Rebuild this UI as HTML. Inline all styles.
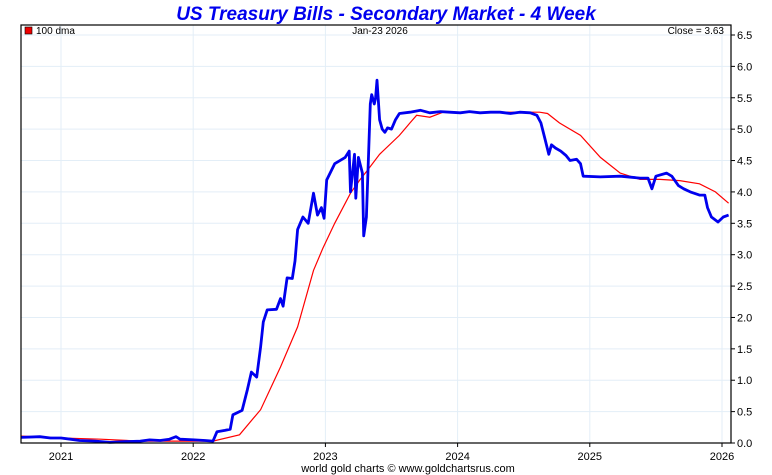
<!DOCTYPE html>
<html><head><meta charset="utf-8"><style>
body{margin:0;background:#fff;}
svg{display:block;font-family:"Liberation Sans",sans-serif;}
</style></head><body>
<svg width="772" height="475">
<text x="386" y="20" text-anchor="middle" font-size="19" font-weight="bold" font-style="italic" fill="#0000ee">US Treasury Bills - Secondary Market - 4 Week</text>
<g id="grid"></g>
<g id="series"></g>
<rect x="21" y="25" width="710" height="418" fill="none" stroke="#000" stroke-width="1.2"/>
<rect x="25" y="27" width="7" height="7" fill="#e00" stroke="#000" stroke-width="0.6"/>
<text x="36" y="34" font-size="10">100 dma</text>
<text x="380" y="34" font-size="10" text-anchor="middle">Jan-23  2026</text>
<text x="724" y="34" font-size="10" text-anchor="end">Close = 3.63</text>
<g id="axes"></g>
<text x="408" y="472" font-size="11" text-anchor="middle">world gold charts © www.goldchartsrus.com</text>
</svg>
<script>
const yTicks=[0,0.5,1,1.5,2,2.5,3,3.5,4,4.5,5,5.5,6,6.5];
const yTickLabels=["0.0","0.5","1.0","1.5","2.0","2.5","3.0","3.5","4.0","4.5","5.0","5.5","6.0","6.5"];
const xTicks=[2021,2022,2023,2024,2025,2026];
const xTickLabels=["2021","2022","2023","2024","2025","2026"];
const blueDates=[2020.70,2020.84,2020.92,2021.00,2021.07,2021.14,2021.26,2021.37,2021.48,2021.60,2021.67,2021.75,2021.82,2021.87,2021.90,2022.01,2022.09,2022.15,2022.18,2022.24,2022.28,2022.30,2022.37,2022.41,2022.44,2022.48,2022.51,2022.53,2022.56,2022.63,2022.66,2022.68,2022.71,2022.75,2022.77,2022.79,2022.83,2022.87,2022.91,2022.94,2022.97,2022.99,2023.01,2023.07,2023.15,2023.18,2023.19,2023.22,2023.23,2023.25,2023.28,2023.29,2023.31,2023.32,2023.34,2023.35,2023.37,2023.38,2023.39,2023.41,2023.43,2023.45,2023.47,2023.50,2023.53,2023.56,2023.64,2023.72,2023.79,2023.87,2023.94,2024.02,2024.09,2024.17,2024.25,2024.32,2024.40,2024.47,2024.55,2024.60,2024.63,2024.66,2024.69,2024.71,2024.74,2024.78,2024.82,2024.85,2024.90,2024.93,2024.95,2025.08,2025.23,2025.38,2025.44,2025.47,2025.50,2025.58,2025.62,2025.67,2025.71,2025.76,2025.83,2025.87,2025.89,2025.92,2025.97,2026.01,2026.05];
const blueValues=[0.09,0.10,0.08,0.08,0.06,0.04,0.03,0.01,0.02,0.03,0.05,0.04,0.06,0.10,0.06,0.05,0.04,0.03,0.18,0.20,0.22,0.45,0.52,0.85,1.13,1.05,1.53,1.93,2.12,2.13,2.30,2.18,2.63,2.62,2.90,3.40,3.60,3.50,3.98,3.63,3.75,3.58,4.19,4.45,4.55,4.65,4.00,4.60,3.90,4.55,4.30,3.30,3.60,4.20,5.40,5.55,5.40,5.50,5.78,5.15,5.00,4.95,5.02,5.00,5.15,5.25,5.27,5.30,5.26,5.28,5.27,5.26,5.28,5.26,5.27,5.27,5.25,5.27,5.26,5.22,5.10,4.85,4.60,4.75,4.70,4.65,4.58,4.50,4.52,4.45,4.25,4.24,4.25,4.22,4.22,4.05,4.25,4.30,4.25,4.10,4.05,4.00,3.95,3.95,3.75,3.60,3.52,3.60,3.63];
const redDates=[2020.70,2021.00,2021.30,2021.60,2021.90,2022.15,2022.35,2022.51,2022.66,2022.79,2022.91,2022.98,2023.07,2023.19,2023.26,2023.32,2023.41,2023.56,2023.64,2023.69,2023.79,2023.89,2024.62,2024.68,2024.77,2024.93,2025.08,2025.23,2025.38,2025.53,2025.68,2025.83,2025.95,2026.05];
const redValues=[0.11,0.08,0.06,0.03,0.03,0.03,0.13,0.53,1.21,1.85,2.75,3.10,3.50,3.98,4.19,4.35,4.60,4.90,5.10,5.22,5.19,5.27,5.27,5.25,5.10,4.90,4.55,4.30,4.20,4.20,4.18,4.13,4.00,3.82];

const xS=yr=>61+(yr-2021)*132.2;
const yS=v=>443-v*62.77;
const NS="http://www.w3.org/2000/svg";
const grid=document.getElementById('grid'),axes=document.getElementById('axes'),series=document.getElementById('series');
function mk(tag,attrs,parent){const e=document.createElementNS(NS,tag);for(const k in attrs)e.setAttribute(k,attrs[k]);parent.appendChild(e);return e;}
yTicks.forEach((t,i)=>{
  if(t>0){const g=mk('line',{x1:21,x2:731,y1:yS(t),y2:yS(t),stroke:'#e3eef7','stroke-width':1},grid);
  
  }
  const tk=mk('line',{x1:731,x2:735,y1:yS(t),y2:yS(t),stroke:'#000'},axes);
  
  
  const tx=mk('text',{x:737,y:yS(t)+4,'font-size':11},axes);tx.textContent=yTickLabels[i];
  
  
});
xTicks.forEach((t,i)=>{
  const g=mk('line',{x1:xS(t),x2:xS(t),y1:25,y2:443,stroke:'#e3eef7','stroke-width':1},grid);
  
  
  const tk=mk('line',{x1:xS(t),x2:xS(t),y1:443,y2:447,stroke:'#000'},axes);
  
  
  const tx=mk('text',{x:xS(t),y:460,'font-size':11,'text-anchor':'middle'},axes);tx.textContent=xTickLabels[i];
  
  
});
const pts=(d,v)=>d.map((x,i)=>xS(x).toFixed(1)+','+yS(v[i]).toFixed(1)).join(' ');
const red=mk('polyline',{points:pts(redDates,redValues),fill:'none',stroke:'#ff0000','stroke-width':1.2},series);


const blue=mk('polyline',{points:pts(blueDates,blueValues),fill:'none',stroke:'#0000ee','stroke-width':2.8,'stroke-linejoin':'round'},series);


</script>
</body></html>
